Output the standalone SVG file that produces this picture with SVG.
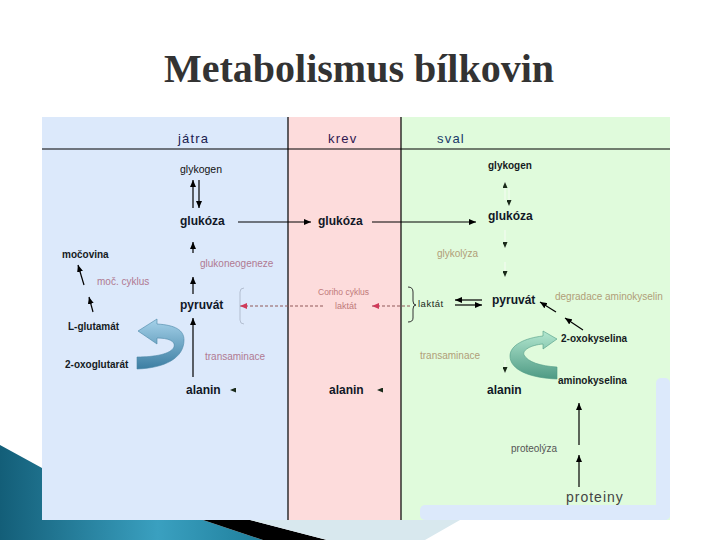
<svg xmlns="http://www.w3.org/2000/svg" width="720" height="540" viewBox="0 0 720 540">
<style>
.t{font-family:"Liberation Sans",Arial,sans-serif}
.b{font-weight:bold;font-size:12px;fill:#111827}
.bs{font-weight:bold;font-size:10px;fill:#151a22}
.hd{font-size:13px;letter-spacing:1.2px}
.fp{font-size:10px;fill:#b07a92}
.fb{font-size:10px;fill:#b09e78}
.ln{stroke:#000;stroke-width:1.2;fill:none}
.fl{stroke:#f2fcf0;stroke-width:1.2;fill:none}
.dr{stroke:#905858;stroke-width:1;stroke-dasharray:3 2;fill:none}
</style>
<defs>
<marker id="ah" markerUnits="userSpaceOnUse" markerWidth="7" markerHeight="6" refX="7" refY="3" orient="auto"><path d="M0,0L7,3L0,6z" fill="#000"/></marker>
<marker id="as" markerUnits="userSpaceOnUse" markerWidth="6" markerHeight="5" refX="6" refY="2.5" orient="auto"><path d="M0,0L6,2.5L0,5z" fill="#1a2a1a"/></marker>
<marker id="ar" markerUnits="userSpaceOnUse" markerWidth="7" markerHeight="6" refX="7" refY="3" orient="auto"><path d="M0,0L7,3L0,6z" fill="#d03a5a"/></marker>
<linearGradient id="teal" x1="0" y1="0" x2="1" y2="0"><stop offset="0" stop-color="#135e78"/><stop offset="0.6" stop-color="#3aa0c0"/><stop offset="1" stop-color="#1f7f9c"/></linearGradient>
<linearGradient id="gblue" x1="0" y1="0" x2="0" y2="1"><stop offset="0" stop-color="#a6d2ea"/><stop offset="1" stop-color="#3c7ea2"/></linearGradient>
<linearGradient id="ggreen" x1="0" y1="0" x2="0" y2="1"><stop offset="0" stop-color="#b4e8d0"/><stop offset="1" stop-color="#4e9a84"/></linearGradient>
</defs>
<rect width="720" height="540" fill="#fff"/>
<g id="template">
<polygon points="0,445 42,468 203,520 263,540 0,540" fill="url(#teal)"/>
<polygon points="203,520 250,520 327,540 263,540" fill="#000"/>
<polygon points="250,520 460,520 425,540 327,540" fill="#d8e8ee"/>
</g>
<text class="title" x="359" y="82" text-anchor="middle" font-family="Liberation Serif,Times New Roman,serif" font-weight="bold" font-size="40" fill="#333">Metabolismus bílkovin</text>
<g id="panels">
<rect x="42" y="117" width="246" height="403" fill="#dce9fb"/>
<rect x="288" y="117" width="113" height="403" fill="#fddcdc"/>
<rect x="401" y="117" width="269" height="403" fill="#e0fbdc"/>
<rect x="656" y="378" width="14" height="142" rx="5" fill="#dce9fb"/>
<rect x="420" y="505" width="250" height="15" rx="5" fill="#dce9fb"/>
<line x1="42" y1="149" x2="670" y2="149" stroke="#000" stroke-width="1.2"/>
<line x1="288" y1="117" x2="288" y2="520" stroke="#000" stroke-width="1.2"/>
<line x1="401" y1="117" x2="401" y2="520" stroke="#000" stroke-width="1.2"/>
</g>
<g id="headers" class="t">
<text class="t hd" x="178" y="143" fill="#1a2050">játra</text>
<text class="t hd" x="328" y="143" fill="#301850">krev</text>
<text class="t hd" x="437" y="143" fill="#1a3a6a">sval</text>
</g>
<g id="connectors">
<line class="ln" x1="193" y1="208" x2="193" y2="180" marker-end="url(#ah)"/>
<line class="ln" x1="199" y1="180" x2="199" y2="208" marker-end="url(#ah)"/>
<line class="ln" x1="238" y1="222" x2="311" y2="222" marker-end="url(#ah)"/>
<line class="ln" x1="372" y1="222" x2="476" y2="222" marker-end="url(#ah)"/>
<line class="ln" x1="193" y1="253" x2="193" y2="242" marker-end="url(#ah)"/>
<line class="ln" x1="193" y1="294" x2="193" y2="277" marker-end="url(#ah)"/>
<line class="ln" x1="193" y1="377" x2="193" y2="318" marker-end="url(#ah)"/>
<line class="ln" x1="93" y1="312" x2="89" y2="297" marker-end="url(#ah)"/>
<line class="ln" x1="84" y1="285" x2="78" y2="265" marker-end="url(#ah)"/>
<line x1="238" y1="390" x2="230" y2="390" stroke="#e4eefc" marker-end="url(#as)"/>
<line x1="386" y1="390" x2="377" y2="390" stroke="#fde6e6" marker-end="url(#as)"/>
<line class="dr" x1="323" y1="306" x2="240" y2="306" marker-end="url(#ar)"/>
<line class="dr" x1="410" y1="306" x2="372" y2="306" marker-end="url(#ar)"/>
<path d="M244,288 Q240,288 240,292 L240,320 Q240,324 244,324" fill="none" stroke="#9aa4b8" stroke-width="0.9" opacity="0.7"/>
<path d="M408,287 Q413,287 413,292 L413,301 Q413,305 416,305 Q413,305 413,309 L413,318 Q413,322 408,322" fill="none" stroke="#333" stroke-width="1"/>
<line class="fl" x1="505" y1="200" x2="505" y2="182" marker-end="url(#as)"/>
<line class="fl" x1="509" y1="188" x2="509" y2="206" marker-end="url(#as)"/>
<line class="fl" x1="505" y1="230" x2="505" y2="248" marker-end="url(#as)"/>
<line class="fl" x1="505" y1="262" x2="505" y2="277" marker-end="url(#as)"/>
<line class="fl" x1="505" y1="360" x2="505" y2="373" marker-end="url(#as)"/>
<line class="ln" x1="482" y1="300" x2="455" y2="300" marker-end="url(#ah)"/>
<line class="ln" x1="455" y1="305" x2="482" y2="305" marker-end="url(#ah)"/>
<line class="ln" x1="556" y1="312" x2="540" y2="302" stroke-width="1" marker-end="url(#ah)"/>
<line class="ln" x1="583" y1="330" x2="565" y2="318" stroke-width="1" marker-end="url(#ah)"/>
<line class="ln" x1="579" y1="487" x2="579" y2="455" marker-end="url(#ah)"/>
<line class="ln" x1="579" y1="445" x2="579" y2="403" marker-end="url(#ah)"/>
<path d="M137,369 C165,368 184,358 184,340 C184,330 175,325 157,324 L157,319 L138,331 L157,344 L157,338 C168,338 176,341 174,347 C171,354 155,357 137,357 Z" fill="url(#gblue)" stroke="#4a86a6" stroke-width="0.6"/>
<path d="M557,379 C530,378 510,370 510,356 C510,345 525,338 543,336 L543,331 L557,339 L543,349 L543,344 C531,345 522,350 524,355 C528,362 540,366 557,367 Z" fill="url(#ggreen)" stroke="#4f9a84" stroke-width="0.6"/>
</g>
<g id="liver" class="t">
<g id="n-glykogen-j"><text class="t" x="180" y="173" font-size="10.5" fill="#111">glykogen</text></g>
<g id="n-glukoza-j"><text class="t b" x="180" y="225">glukóza</text></g>
<g id="n-glukoneo"><text class="t fp" x="200" y="267">glukoneogeneze</text></g>
<g id="n-pyruvat-j"><text class="t b" x="180" y="309">pyruvát</text></g>
<g id="n-transam-j"><text class="t fp" x="205" y="360">transaminace</text></g>
<g id="n-alanin-j"><text class="t b" x="186" y="394">alanin</text></g>
<g id="n-mocovina"><text class="t bs" x="62" y="258">močovina</text></g>
<g id="n-mocc"><text class="t fp" x="97" y="285">moč. cyklus</text></g>
<g id="n-lglut"><text class="t bs" x="68" y="330" font-size="10.5">L-glutamát</text></g>
<g id="n-oxoglut"><text class="t bs" x="65" y="368" font-size="10.5">2-oxoglutarát</text></g>
</g>
<g id="blood" class="t">
<g id="n-glukoza-k"><text class="t b" x="318" y="225">glukóza</text></g>
<g id="n-cori"><text class="t" x="318" y="295" font-size="8.5" fill="#c07a7a">Coriho cyklus</text></g>
<g id="n-laktat-k"><text class="t" x="335" y="309" font-size="9" fill="#c07a7a">laktát</text></g>
<g id="n-alanin-k"><text class="t b" x="329" y="394">alanin</text></g>
</g>
<g id="muscle" class="t">
<g id="n-glykogen-s"><text class="t bs" x="488" y="169" fill="#0d200d">glykogen</text></g>
<g id="n-glukoza-s"><text class="t b" x="488" y="220" fill="#0d200d">glukóza</text></g>
<g id="n-glykolyza"><text class="t fb" x="437" y="257">glykolýza</text></g>
<g id="n-laktat-s"><text class="t" x="418" y="307" font-size="9.5" letter-spacing="0.5" fill="#1a2a1a">laktát</text></g>
<g id="n-pyruvat-s"><text class="t b" x="492" y="304" fill="#0d200d">pyruvát</text></g>
<g id="n-degr"><text class="t fb" x="555" y="300">degradace aminokyselin</text></g>
<g id="n-oxok"><text class="t bs" x="561" y="342">2-oxokyselina</text></g>
<g id="n-transam-s"><text class="t fb" x="420" y="359" fill="#a89070">transaminace</text></g>
<g id="n-aminok"><text class="t bs" x="558" y="384" font-size="10.5">aminokyselina</text></g>
<g id="n-alanin-s"><text class="t b" x="487" y="394" fill="#0d200d">alanin</text></g>
<g id="n-proteolyza"><text class="t" x="511" y="452" font-size="10" fill="#555">proteolýza</text></g>
<g id="n-proteiny"><text class="t" x="566" y="502" font-size="14" letter-spacing="1" fill="#444">proteiny</text></g>
</g>
</svg>
